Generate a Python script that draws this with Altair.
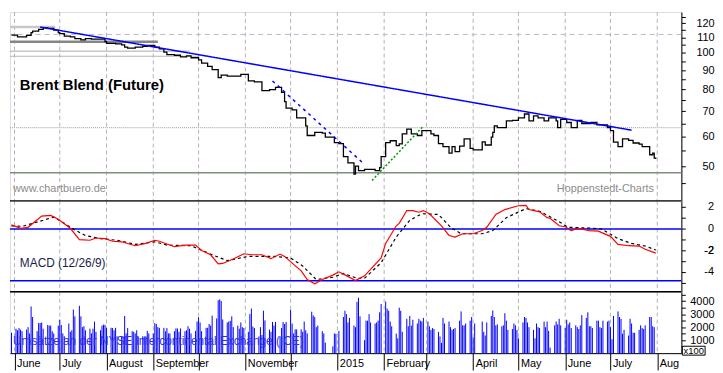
import altair as alt
import pandas as pd

# ---------------- data ----------------
price_dates = ["2014-05-30","2014-06-03","2014-06-09","2014-06-12","2014-06-13","2014-06-17","2014-06-20","2014-06-23","2014-06-27","2014-06-30",
"2014-07-01","2014-07-04","2014-07-08","2014-07-11","2014-07-15","2014-07-18","2014-07-22","2014-07-28","2014-07-31","2014-08-01",
"2014-08-07","2014-08-11","2014-08-13","2014-08-15","2014-08-20","2014-08-25","2014-08-28","2014-09-02","2014-09-05","2014-09-08",
"2014-09-10","2014-09-15","2014-09-19","2014-09-23","2014-09-26","2014-10-01","2014-10-03","2014-10-07","2014-10-10","2014-10-14",
"2014-10-16","2014-10-20","2014-10-24","2014-10-29","2014-11-03","2014-11-07","2014-11-12","2014-11-17","2014-11-21","2014-11-25",
"2014-11-27","2014-11-28","2014-12-02","2014-12-05","2014-12-11","2014-12-12","2014-12-17","2014-12-22","2014-12-24","2014-12-30",
"2015-01-02","2015-01-05","2015-01-08","2015-01-12","2015-01-13","2015-01-15","2015-01-19","2015-01-22","2015-01-26","2015-01-29",
"2015-01-30","2015-02-02","2015-02-05","2015-02-09","2015-02-11","2015-02-13","2015-02-16","2015-02-19","2015-02-23","2015-02-26",
"2015-03-02","2015-03-04","2015-03-06","2015-03-09","2015-03-12","2015-03-16","2015-03-18","2015-03-20","2015-03-23","2015-03-26",
"2015-03-30","2015-04-01","2015-04-07","2015-04-09","2015-04-13","2015-04-14","2015-04-15","2015-04-17","2015-04-23","2015-04-27",
"2015-05-01","2015-05-05","2015-05-08","2015-05-11","2015-05-14","2015-05-18","2015-05-21","2015-05-26","2015-05-27","2015-05-29",
"2015-06-02","2015-06-05","2015-06-09","2015-06-12","2015-06-15","2015-06-18","2015-06-22","2015-06-25","2015-06-29","2015-07-01",
"2015-07-03","2015-07-06","2015-07-09","2015-07-13","2015-07-16","2015-07-20","2015-07-22","2015-07-27","2015-07-29","2015-07-30",
"2015-07-31"]
price_values = [111.6,110.3,111.4,113.2,114.3,115.5,116.6,116.2,115.0,113.2,
112.5,110.9,110.3,109.2,108.4,109.2,108.9,108.9,107.2,106.1,
105.7,105.1,103.6,103.0,103.6,104.2,104.7,103.6,102.6,100.5,
99.0,98.6,97.6,98.2,97.1,95.8,93.9,92.1,90.3,86.0,
87.3,86.8,86.8,87.7,84.3,83.8,79.4,79.9,81.0,78.6,
74.2,71.3,70.6,67.2,64.0,60.3,61.5,61.2,59.7,57.7,
57.4,53.0,51.0,47.6,50.0,48.6,49.0,49.0,48.6,49.5,
53.0,57.7,58.4,56.7,57.3,60.9,62.7,60.9,60.3,62.1,
62.1,60.9,60.3,57.4,56.3,54.1,56.3,54.6,56.5,59.1,
55.7,55.2,58.0,56.9,59.7,61.5,64.0,63.3,66.0,66.2,
67.2,68.8,66.0,68.0,67.2,66.0,67.2,66.0,63.3,66.6,
65.3,63.3,66.2,64.9,64.9,65.3,64.4,64.4,63.3,62.1,
57.9,56.3,59.1,58.5,57.6,57.2,56.3,53.6,54.1,52.5,
52.2]

macd_dates = ["2014-05-30","2014-06-05","2014-06-10","2014-06-19","2014-06-25","2014-06-30","2014-07-08","2014-07-14","2014-07-21","2014-07-25",
"2014-07-31","2014-08-05","2014-08-11","2014-08-20","2014-08-27","2014-09-02","2014-09-05","2014-09-15","2014-09-22","2014-09-29",
"2014-10-03","2014-10-09","2014-10-14","2014-10-17","2014-10-24","2014-10-31","2014-11-05","2014-11-12","2014-11-18","2014-11-24",
"2014-11-27","2014-12-03","2014-12-08","2014-12-12","2014-12-17","2014-12-22","2014-12-29","2015-01-02","2015-01-07","2015-01-13",
"2015-01-19","2015-01-30","2015-02-02","2015-02-09","2015-02-11","2015-02-16","2015-02-20","2015-02-24","2015-02-27","2015-03-03",
"2015-03-11","2015-03-16","2015-03-20","2015-03-25","2015-04-01","2015-04-07","2015-04-10","2015-04-16","2015-04-22","2015-05-01",
"2015-05-06","2015-05-08","2015-05-15","2015-05-20","2015-05-22","2015-05-28","2015-06-01","2015-06-05","2015-06-10","2015-06-17",
"2015-06-23","2015-06-26","2015-07-01","2015-07-06","2015-07-13","2015-07-20","2015-07-24","2015-07-31"]
macd_values = [0.38,0.06,0.15,1.18,1.24,0.89,0.06,-0.98,-1.04,-0.83,
-0.89,-1.13,-1.18,-1.54,-1.33,-1.04,-1.13,-1.63,-1.48,-1.48,
-1.98,-2.37,-3.2,-3.17,-2.76,-2.28,-2.37,-2.37,-2.73,-2.31,
-2.52,-3.26,-3.85,-4.65,-5.04,-4.65,-4.24,-3.94,-4.29,-4.74,
-4.31,-2.67,-1.33,0.29,0.51,1.69,1.69,1.54,1.69,1.40,
0.29,-0.60,-0.74,-0.44,-0.44,-0.15,0.15,1.33,1.78,2.13,
2.16,1.78,1.57,1.04,0.98,0.29,0.20,-0.15,0.06,-0.15,
-0.20,-0.38,-0.68,-1.42,-1.54,-1.57,-1.87,-2.22]

signal_dates = ["2014-05-30","2014-06-06","2014-06-13","2014-06-27","2014-07-03","2014-07-11","2014-07-18","2014-07-28","2014-08-08","2014-08-20",
"2014-09-02","2014-09-10","2014-09-26","2014-10-10","2014-10-20","2014-11-03","2014-11-20","2014-12-01","2014-12-09","2014-12-18",
"2014-12-29","2015-01-05","2015-01-14","2015-01-19","2015-01-30","2015-02-09","2015-02-18","2015-02-26","2015-03-09","2015-03-17",
"2015-03-24","2015-04-07","2015-04-14","2015-04-23","2015-05-06","2015-05-15","2015-05-27","2015-06-03","2015-06-17","2015-06-25",
"2015-07-06","2015-07-15","2015-07-24","2015-07-31"]
signal_values = [0.29,0.24,0.51,1.09,0.60,-0.09,-0.60,-0.89,-1.04,-1.42,
-1.18,-1.48,-1.54,-2.37,-2.91,-2.52,-2.52,-2.67,-3.40,-4.65,
-4.44,-4.09,-4.53,-4.53,-3.11,-0.74,0.80,1.40,1.33,0.15,
-0.44,-0.44,-0.15,1.04,1.87,1.63,0.74,0.15,0.09,0.0,
-0.89,-1.33,-1.57,-1.93]

# daily volumes (axis units), listed month by month in trading-day order
volume_by_month = {
    "2014-05": [1570],
    "2014-06": [1880,1760,1930,1810,1690,1810,2000,1520,3590,2780,1690,2310,2310,2360,1880,2170,2120,2120,1690,1520,2120],
    "2014-07": [2570,2170,1520,1300,2280,1640,1760,3350,2830,3640,2830,2000,2070,1760,1880,1520,1880,2430,1640,1760,2120,2190,2170],
    "2014-08": [1930,1950,1930,1760,1950,1290,1290,1290,2860,1520,1930,1690,1640,1520,1760,1290,1290,1290,1290,1710,1520],
    "2014-09": [1520,2310,2240,2000,1950,1950,1690,1930,1520,1520,1690,1900,1900,1640,1900,1690,1760,2070,1880,1520,1710,2430],
    "2014-10": [2760,2360,1690,1950,1950,2240,2120,2880,2670,4070,4140,4020,2590,2360,2430,2480,2830,2000,2120,1880,2360,2000,1930],
    "2014-11": [1640,3000,3430,2050,1930,1290,2000,1400,3260,2520,1810,1640,2400,2120,2400,1290,1930,2400,2240,2400],
    "2014-12": [3330,2280,1520,1830,1830,1830,1640,2430,1760,1520,3190,2900,2780,2000,2120,1690,1520,810,520,1520,1480],
    "2015-01": [1710,2780,3260,3000,2360,2710,2120,2000,3950,4260,2830,1000,2500,2500,3000,2360,2280,2360,2500,3140,3780],
    "2015-02": [3970,3430,3260,2430,2070,1500,1140,3500,3260,1640,2640,2070,2860,2120,2570,2280,2640,2500,2430,2710],
    "2015-03": [2430,2070,1790,1930,1860,1640,1290,790,2710,2280,2430,2000,1790,1860,1930,2500,3210,2140,2140,2280,2500,2780],
    "2015-04": [1210,2280,2430,1640,1360,2360,2860,3280,2780,2140,2210,2070,2140,3070,2500,1790,1860,2280,2140,1790],
    "2015-05": [1140,2360,2780,2710,2360,2000,1790,1140,2280,2000,1930,2430,2000,2430,1710,430,2140,2430,2210,2640,2140],
    "2015-06": [1930,2570,2210,2360,1930,2140,2000,1860,2140,2930,2710,3140,2070,2070,1930,2500,2500,2000,1930,2500,2430,2500],
    "2015-07": [2000,1070,2860,3210,2780,2640,1500,1790,1360,2640,2280,1570,1570,1790,2140,1930,1860,2140,2780,2780,2070,2000],
}
holidays = ["2014-12-25", "2014-12-26", "2015-01-01", "2015-04-03", "2015-04-06"]

# trend lines and levels (date, price)
trend_blue_dates = ["2014-06-18", "2015-07-15"]
trend_blue_prices = [117.2, 62.3]
trend_dash_dates = ["2014-11-19", "2015-01-19"]
trend_dash_prices = [84.2, 50.5]
trend_green_dates = ["2015-01-24", "2015-02-27"]
trend_green_prices = [45.8, 63.9]
level_start = "2014-05-29"
level_ends = ["2014-06-28", "2014-09-04", "2014-09-25", "2014-10-01"]
level_prices = [117.2, 107.1, 101.1, 98.0]
full_levels = [112.0, 63.3, 48.0]

price_ticks = [45, 50, 55, 60, 65, 70, 75, 80, 85, 90, 95, 100, 105, 110, 115, 120, 125]
macd_ticks = [-5, -4, -3, -2, -1, 0, 1, 2]
macd_label_values = [2, 0, -2, -4]
macd_label_texts = ["2", "0", "-2", "-4"]
macd_lines = [0, -4.77]
vol_ticks = [500, 1000, 1500, 2000, 2500, 3000, 3500, 4000, 4500]
months = [(2014, m) for m in range(6, 13)] + [(2015, m) for m in range(1, 9)]

title_text = "Brent Blend (Future)"
left_credit = "www.chartbuero.de"
right_credit = "Hoppenstedt-Charts"
macd_label = "MACD (12/26/9)"
volume_label = "Umsätze an der NYSE Intercontinental Exchange (ICE)"
unit_label = "x100"

# ---------------- build tables ----------------
price_df = pd.DataFrame({"date": price_dates, "price": price_values})
macd_df = pd.DataFrame({"date": macd_dates, "v": macd_values})
sig_df = pd.DataFrame({"date": signal_dates, "v": signal_values})
grid_df = pd.DataFrame({"date": [f"{y}-{m:02d}-01" for y, m in months]})
macd_lab_df = pd.DataFrame({"v": macd_label_values, "t": macd_label_texts})

days = [d for d in pd.bdate_range("2014-05-30", "2015-07-31") if d.strftime("%Y-%m-%d") not in holidays]
by_month = {}
for d in days:
    by_month.setdefault(d.strftime("%Y-%m"), []).append(d.strftime("%Y-%m-%d"))
vrows = []
for m, ds in by_month.items():
    for d, v in zip(ds, volume_by_month.get(m, [])):
        vrows.append({"date": d, "vol": v})
vol_df = pd.DataFrame(vrows)

FONT = "Liberation Sans"
W, H1, H2, H3 = 679, 191, 92, 62
MDOM = [-5.78, 2.58]

xdom = [alt.DateTime(year=2014, month=5, date=29, utc=True),
        alt.DateTime(year=2015, month=8, date=17, utc=True)]
month_vals = [alt.DateTime(year=y, month=m, date=1, utc=True) for y, m in months]
xscale = alt.Scale(type="utc", domain=xdom)
XN = alt.X("date:T", scale=xscale, axis=None, title=None)

def grid_layer(color):
    return alt.Chart(grid_df).mark_rule(color=color, strokeDash=[4, 3], strokeWidth=1).encode(x=XN)

label_expr = ("utcmonth(datum.value) == 0 ? utcFormat(datum.value, '%Y') : "
              "(indexof([9, 11, 2], utcmonth(datum.value)) >= 0 ? '' : "
              "(utcyear(datum.value) == 2015 && utcmonth(datum.value) == 7 ? 'Aug' : utcFormat(datum.value, '%B')))")
bottom_axis = alt.Axis(values=month_vals, grid=False,
                       labelExpr=label_expr, labelAlign="left", labelBaseline="top", labelPadding=-12,
                       labelOffset=2, labelFontSize=11, labelFont=FONT, labelColor="black", labelOverlap=False,
                       labelFlush=False, tickSize=17, tickColor="black", domainColor="black", title=None)

def y_axis(values, expr=None, labels=True):
    kw = dict(orient="right", values=values, tickSize=4, tickColor="black",
              domainColor="black", labelAlign="right", labelPadding=29, labelFontSize=11, labelFont=FONT,
              labelColor="black", labelOverlap=False, grid=False, title=None, labels=labels)
    if expr:
        kw["labelExpr"] = expr
    return alt.Axis(**kw)

# ---------------- price panel ----------------
pscale = alt.Scale(type="log", domain=[40.4, 128.5], nice=False, zero=False)
Y1 = alt.Y("price:Q", scale=pscale, title=None,
           axis=y_axis(price_ticks, "datum.value % 10 == 0 ? format(datum.value, 'd') : ''"))

layers = [grid_layer("#bcaac4")]
full_styles = [("#c4b2cc", [5, 4], 1), ("#a6b69e", [1, 1], 1.2), ("#7f8f7f", [1, 0], 1.5)]
for lv, (col, dash, sw) in zip(full_levels, full_styles):
    layers.append(alt.Chart(pd.DataFrame({"price": [lv]})).mark_rule(color=col, strokeDash=dash, strokeWidth=sw)
                  .encode(y=Y1))
level_styles = [("#c8c8c8", 2.5), ("#868686", 2.5), ("#a8a8a8", 1), ("#b4b4b4", 1)]
for end, lv, (col, sw) in zip(level_ends, level_prices, level_styles):
    d = pd.DataFrame({"date": [level_start], "end": [end], "price": [lv]})
    layers.append(alt.Chart(d).mark_rule(color=col, strokeWidth=sw, clip=True)
                  .encode(x=XN, x2="end:T", y=Y1))
layers.append(alt.Chart(price_df).mark_line(interpolate="step-after", color="black", strokeWidth=1.3, clip=True)
              .encode(x=XN, y=Y1))
for dts, prs, col, dash in [(trend_blue_dates, trend_blue_prices, "#0000ff", [1, 0]),
                            (trend_dash_dates, trend_dash_prices, "#0000ff", [3, 4]),
                            (trend_green_dates, trend_green_prices, "#009a00", [2, 2])]:
    layers.append(alt.Chart(pd.DataFrame({"date": dts, "price": prs}))
                  .mark_line(color=col, strokeDash=dash, strokeWidth=1.5)
                  .encode(x=XN, y=Y1))
layers.append(alt.Chart(pd.DataFrame({"t": [title_text]}))
              .mark_text(align="left", baseline="middle", font=FONT, fontSize=15, fontWeight="bold", color="black")
              .encode(text="t:N", x=alt.value(10), y=alt.value(74)))
layers.append(alt.Chart(pd.DataFrame({"t": [left_credit]}))
              .mark_text(align="left", baseline="middle", font=FONT, fontSize=11, color="#8c8c8c")
              .encode(text="t:N", x=alt.value(3), y=alt.value(179)))
layers.append(alt.Chart(pd.DataFrame({"t": [right_credit]}))
              .mark_text(align="left", baseline="middle", font=FONT, fontSize=11, color="#8c8c8c")
              .encode(text="t:N", x=alt.value(553), y=alt.value(179)))
price_panel = alt.layer(*layers).properties(width=W, height=H1)

# ---------------- MACD panel ----------------
mscale = alt.Scale(domain=MDOM, nice=False, zero=False)
Y2 = alt.Y("v:Q", scale=mscale, title=None, axis=y_axis(macd_ticks, labels=False))
lower_label = macd_lab_df[macd_lab_df["v"] == -2]
m_layers = [
    grid_layer("#a9b8a9"),
    alt.Chart(pd.DataFrame({"v": macd_lines})).mark_rule(color="#0000ff", strokeWidth=1.5).encode(y=Y2),
    alt.Chart(pd.DataFrame({"t": [0]})).mark_rule(color="black", strokeWidth=1.5)
        .encode(x=alt.value(0), x2=alt.value(W), y=alt.value(0)),
    alt.Chart(sig_df).mark_line(color="black", strokeDash=[3, 3], strokeWidth=1.2).encode(x=XN, y=Y2),
    alt.Chart(macd_df).mark_line(color="#ff0000", strokeWidth=1.2).encode(x=XN, y=Y2),
    alt.Chart(macd_lab_df).mark_text(align="right", baseline="middle", font=FONT, fontSize=11, color="black")
        .encode(text="t:N", y=Y2, x=alt.value(W + 33)),
    alt.Chart(pd.DataFrame({"t": [macd_label]}))
        .mark_text(align="left", baseline="middle", font=FONT, fontSize=12, color="#1c1c4c")
        .encode(text="t:N", x=alt.value(10), y=alt.value(63)),
]
macd_panel = alt.layer(*m_layers).properties(width=W, height=H2)

# ---------------- volume panel ----------------
X3 = alt.X("date:T", scale=xscale, axis=bottom_axis, title=None)
vscale = alt.Scale(domain=[0, 4714], nice=False, zero=True)
Y3 = alt.Y("vol:Q", scale=vscale, title=None,
           axis=y_axis(vol_ticks, "datum.value % 1000 == 0 ? format(datum.value, 'd') : ''"))
# same "-2" MACD label repainted from the last cell (flush layout keeps it exactly on the MACD position)
minus2_offset = H2 * (MDOM[1] - (-2)) / (MDOM[1] - MDOM[0]) - H2
v_layers = [
    grid_layer("#a9b8a9").encode(x=X3),
    alt.Chart(vol_df).mark_rule(color="#0000ff", strokeWidth=1).encode(x=X3, y=Y3, y2=alt.datum(0)),
    alt.Chart(pd.DataFrame({"t": [0]})).mark_rule(color="black", strokeWidth=1.5)
        .encode(x=alt.value(0), x2=alt.value(W), y=alt.value(0)),
    alt.Chart(pd.DataFrame({"t": [volume_label]}))
        .mark_text(align="left", baseline="middle", font=FONT, fontSize=12, color="#3030e0")
        .encode(text="t:N", x=alt.value(3), y=alt.value(50)),
    alt.Chart(pd.DataFrame({"t": [unit_label]}))
        .mark_rect(fill="white", stroke="black", strokeWidth=1)
        .encode(x=alt.value(W + 1), x2=alt.value(W + 24), y=alt.value(55), y2=alt.value(64)),
    alt.Chart(pd.DataFrame({"t": [unit_label]}))
        .mark_text(align="center", baseline="middle", font=FONT, fontSize=9.5, color="black")
        .encode(text="t:N", x=alt.value(W + 12.5), y=alt.value(59.5)),
    alt.Chart(lower_label).mark_text(align="right", baseline="middle", font=FONT, fontSize=11, color="black")
        .encode(text="t:N", x=alt.value(W + 33), y=alt.value(minus2_offset)),
]
vol_panel = alt.layer(*v_layers).properties(width=W, height=H3)

chart = (alt.vconcat(price_panel, macd_panel, vol_panel, spacing=0, bounds="flush")
         .properties(padding={"left": 0, "top": 0, "right": 0, "bottom": 0})
         .configure_view(stroke=None)
         .configure(background="white"))

chart.save("out.html", embed_options={"renderer": "svg", "actions": False})
